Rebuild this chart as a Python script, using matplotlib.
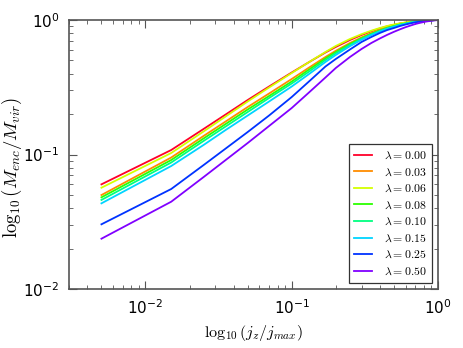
import matplotlib
matplotlib.use("Agg")
import matplotlib.pyplot as plt

jz = [0.005, 0.015, 0.025, 0.035, 0.05, 0.07, 0.1, 0.13, 0.17, 0.2, 0.25, 0.3, 0.35,
      0.4, 0.45, 0.5, 0.55, 0.6, 0.65, 0.7, 0.75, 0.8, 0.85, 0.9, 0.95, 1.0]

lam_labels = ["0.00", "0.03", "0.06", "0.08", "0.10", "0.15", "0.25", "0.50"]

m_000 = [0.0600, 0.1080, 0.1550, 0.1970, 0.2542, 0.3203, 0.4071, 0.4831, 0.5733, 0.6300,
         0.7100, 0.7735, 0.8241, 0.8646, 0.8978, 0.9211, 0.9418, 0.9565, 0.9697, 0.9797,
         0.9864, 0.9915, 0.9949, 0.9974, 0.9991, 1.0]
m_003 = [0.04996, 0.09499, 0.13749, 0.17475, 0.22549, 0.28413, 0.36423, 0.43969, 0.53079, 0.59032,
         0.67446, 0.74236, 0.79773, 0.84268, 0.87955, 0.90547, 0.92899, 0.94672, 0.96226, 0.97385,
         0.98219, 0.98878, 0.99320, 0.99658, 0.99880, 1.0]
m_006 = [0.05664, 0.1026, 0.1485, 0.1904, 0.2478, 0.3149, 0.4036, 0.4831, 0.5781, 0.6408,
         0.7223, 0.7842, 0.8326, 0.8720, 0.9039, 0.9259, 0.9451, 0.9589, 0.9713, 0.9810,
         0.9872, 0.9920, 0.9952, 0.9976, 0.9991, 1.0]
m_008 = [0.04803, 0.09101, 0.13173, 0.16743, 0.21604, 0.27222, 0.34897, 0.42489, 0.51733, 0.57832,
         0.66301, 0.73226, 0.78957, 0.83550, 0.87354, 0.90083, 0.92582, 0.94349, 0.95979, 0.97219,
         0.98135, 0.98811, 0.99286, 0.99641, 0.99880, 1.0]
m_010 = [0.04594, 0.08719, 0.12621, 0.16042, 0.20699, 0.26306, 0.33722, 0.41059, 0.50422, 0.56559,
         0.65176, 0.72230, 0.78150, 0.82837, 0.86758, 0.89621, 0.92186, 0.94027, 0.95733, 0.97052,
         0.98001, 0.98727, 0.99235, 0.99607, 0.99863, 1.0]
m_015 = [0.04334, 0.08212, 0.11786, 0.15109, 0.19496, 0.24777, 0.32035, 0.39338, 0.48725, 0.54937,
         0.63850, 0.71248, 0.77352, 0.82132, 0.86165, 0.89162, 0.91793, 0.93705, 0.95487, 0.96885,
         0.97883, 0.98642, 0.99184, 0.99573, 0.99863, 1.0]
m_025 = [0.03027, 0.05540, 0.08354, 0.10987, 0.14698, 0.19496, 0.26761, 0.34597, 0.45110, 0.51291,
         0.60349, 0.68616, 0.74748, 0.80047, 0.84266, 0.87201, 0.90238, 0.92585, 0.94515, 0.96139,
         0.97298, 0.98135, 0.98809, 0.99403, 0.99795, 1.0]
m_050 = [0.02366, 0.04457, 0.06803, 0.09024, 0.12176, 0.16289, 0.22168, 0.28658, 0.37368, 0.43966,
         0.53078, 0.60868, 0.67453, 0.72852, 0.77618, 0.81710, 0.85282, 0.88403, 0.91014, 0.93381,
         0.95157, 0.96634, 0.97799, 0.98640, 0.99403, 1.0]

series = [m_000, m_003, m_006, m_008, m_010, m_015, m_025, m_050]
colors = ["#ff0029", "#ff8c00", "#d4ff00", "#2bff00", "#00ff80", "#00d4ff", "#0033ff", "#8000ff"]

plt.rcParams["mathtext.fontset"] = "cm"

fig = plt.figure(figsize=(4.63, 3.48), dpi=100)
ax = fig.add_axes([69/463, 1-289/348, (438-69)/463, (289-20)/348])

for ys, c, lab in zip(series, colors, lam_labels):
    ax.plot(jz, ys, color=c, lw=1.3, label=r"$\lambda=%s$" % lab)

ax.set_xscale("log")
ax.set_yscale("log")
ax.set_xlim(0.003, 1.0)
ax.set_ylim(0.01, 1.0)

for s in ax.spines.values():
    s.set_color("#555555")
    s.set_linewidth(1.2)

ax.tick_params(which="both", direction="in", top=True, right=True, colors="#555555",
               labelcolor="black", labelsize=11)
ax.tick_params(which="major", length=6, width=0.8, pad=7)
ax.tick_params(which="minor", length=3, width=0.6)

ax.set_xlabel(r"$\log_{10}(j_z/j_{max})$", fontsize=11.5, labelpad=4)
ax.set_ylabel(r"$\log_{10}(M_{enc}/M_{vir})$", fontsize=13.5)
ax.yaxis.set_label_coords(-0.122, 0.45)

leg = ax.legend(loc="lower right", fontsize=8.5, fancybox=False, framealpha=1,
                edgecolor="#333333", handlelength=1.5, labelspacing=0.3,
                borderaxespad=0.5, handletextpad=1.0, borderpad=0.45)
leg.get_frame().set_linewidth(0.9)

fig.savefig("out.png", dpi=100)
